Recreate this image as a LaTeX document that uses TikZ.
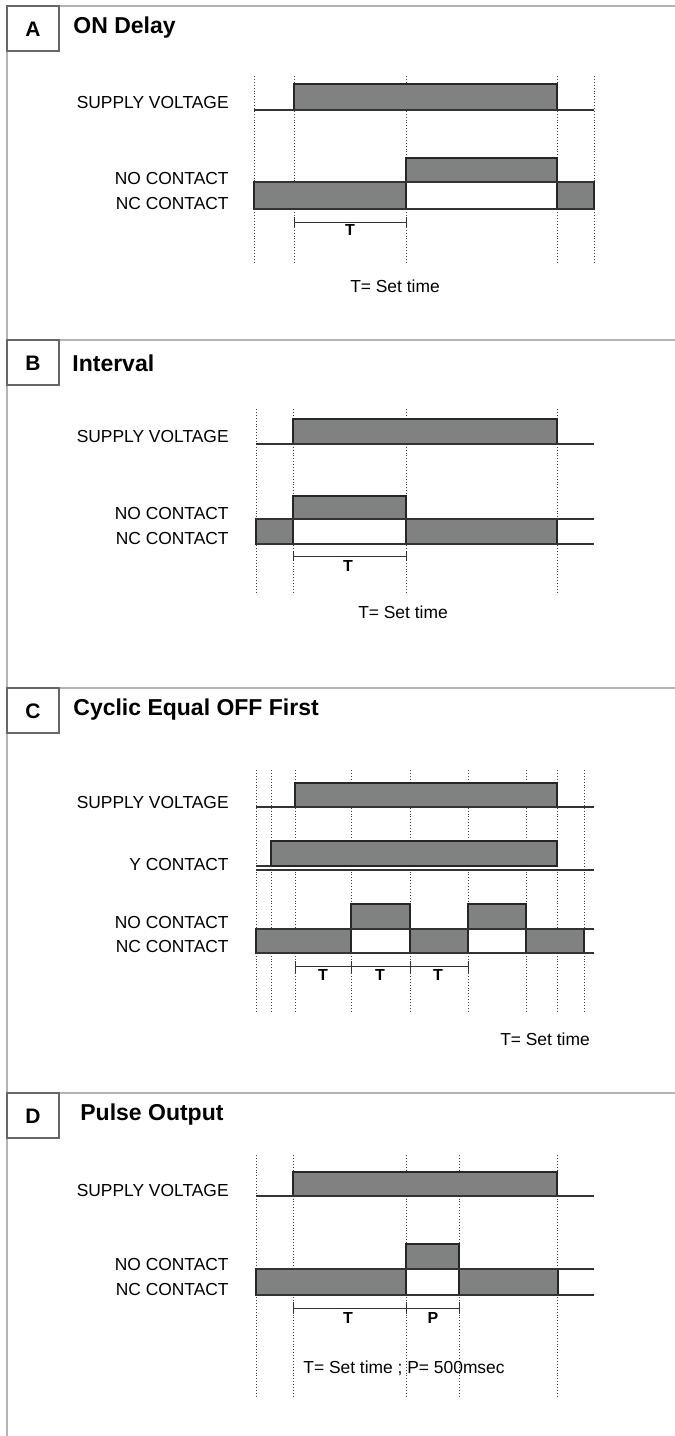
\documentclass[tikz,border=0pt]{standalone}
\usepackage{fontspec}
\setmainfont{Liberation Sans}
\definecolor{pulsegray}{HTML}{808282}
\definecolor{framegray}{HTML}{B4B4B4}

\begin{document}
\begin{tikzpicture}[x=0.5pt,y=-0.5pt,
  sig/.style={line width=0.7pt, black!80},
  pulse/.style={fill=pulsegray, draw=black!85, line width=0.6pt},
  grid/.style={densely dotted, line width=0.45pt, black!75},
  tbar/.style={line width=0.5pt, black!80},
  lbl/.style={anchor=east, inner sep=0pt, font=\fontsize{8.7}{10}\selectfont},
  note/.style={inner sep=0pt, font=\fontsize{8.7}{10}\selectfont},
  tlbl/.style={inner sep=0pt, font=\bfseries\fontsize{8}{10}\selectfont},
  tag/.style={inner sep=0pt, font=\bfseries\fontsize{10.5}{12}\selectfont},
  title/.style={anchor=west, inner sep=0pt, font=\bfseries\fontsize{11.5}{13}\selectfont},
  tagbox/.style={draw=black!60, line width=0.6pt}]
\useasboundingbox (0,0) rectangle (675,1436);

% outer frame and section rules
\draw[framegray, line width=1pt] (7,1436) -- (7,6) -- (675,6);
\foreach \y in {340,688,1093} \draw[framegray, line width=1pt] (7,\y) -- (675,\y);

%%%%%%%%%% A : ON Delay
\draw[tagbox] (7,6) rectangle (59,51);
\node[tag] (tagA) at (33,29) {A};
\node[title] (ttlA) at (73,28) {ON Delay};
\foreach \x in {254,294,406,557,594} \draw[grid] (\x,76) -- (\x,262);
% supply voltage
\draw[pulse] (294,84) rectangle (557,110);
\draw[sig] (254,110) -- (594,110);
% contacts
\draw[pulse] (406,158) rectangle (557,182); % NO
\draw[pulse] (254,182) rectangle (406,209); % NC
\draw[pulse] (557,182) rectangle (594,209);
\draw[sig] (254,182) -- (594,182);
\draw[sig] (254,209) -- (594,209);
% set time
\draw[tbar] (294,217) -- (294,227) (294,222) -- (406,222) (406,217) -- (406,227);
\node[tlbl] (tA) at (350,230) {T};
\node[lbl] (supA) at (229,103) {SUPPLY VOLTAGE};
\node[lbl] (noA) at (229,179) {NO CONTACT};
\node[lbl] (ncA) at (229,204) {NC CONTACT};
\node[note] (keyA) at (395,286) {T= Set time};

%%%%%%%%%% B : Interval
\draw[tagbox] (7,340) rectangle (59,385);
\node[tag] (tagB) at (33,363) {B};
\node[title] (ttlB) at (72,363) {Interval};
\foreach \x in {256,293,406,557} \draw[grid] (\x,409) -- (\x,593);
% supply voltage
\draw[pulse] (293,419) rectangle (557,444);
\draw[sig] (256,444) -- (594,444);
% contacts
\draw[pulse] (293,496) rectangle (406,519); % NO
\draw[pulse] (256,519) rectangle (293,544); % NC
\draw[pulse] (406,519) rectangle (557,544);
\draw[sig] (256,519) -- (594,519);
\draw[sig] (256,544) -- (594,544);
% set time
\draw[tbar] (293,551) -- (293,561) (293,556) -- (406,556) (406,551) -- (406,561);
\node[tlbl] (tB) at (348,566) {T};
\node[lbl] (supB) at (229,437) {SUPPLY VOLTAGE};
\node[lbl] (noB) at (229,514) {NO CONTACT};
\node[lbl] (ncB) at (229,539) {NC CONTACT};
\node[note] (keyB) at (403,612) {T= Set time};

%%%%%%%%%% C : Cyclic Equal OFF First
\draw[tagbox] (7,688) rectangle (59,733);
\node[tag] (tagC) at (33,711) {C};
\node[title] (ttlC) at (73,710) {Cyclic Equal OFF First};
\foreach \x in {256,271,295,351,410,468,526,557,584} \draw[grid] (\x,770) -- (\x,1012);
% supply voltage
\draw[pulse] (295,783) rectangle (557,807);
\draw[sig] (256,807) -- (594,807);
% Y contact
\draw[pulse] (271,841) rectangle (557,866);
\draw[sig] (256,866) -- (271,866);
\draw[sig] (256,870) -- (594,870);
% contacts
\foreach \a/\b in {351/410,468/526} \draw[pulse] (\a,904) rectangle (\b,929); % NO
\foreach \a/\b in {256/351,410/468,526/584} \draw[pulse] (\a,929) rectangle (\b,953); % NC
\draw[sig] (256,929) -- (594,929);
\draw[sig] (256,953) -- (594,953);
% set time
\draw[tbar] (295,966) -- (468,966);
\foreach \x in {295,351,410,468} \draw[tbar] (\x,961) -- (\x,973);
\node[tlbl] (tC1) at (323,975) {T};
\node[tlbl] (tC2) at (380,975) {T};
\node[tlbl] (tC3) at (438,975) {T};
\node[lbl] (supC) at (229,802) {SUPPLY VOLTAGE};
\node[lbl] (yC) at (229,864) {Y CONTACT};
\node[lbl] (noC) at (229,922) {NO CONTACT};
\node[lbl] (ncC) at (229,946) {NC CONTACT};
\node[note] (keyC) at (545,1039) {T= Set time};

%%%%%%%%%% D : Pulse Output
\draw[tagbox] (7,1093) rectangle (59,1138);
\node[tag] (tagD) at (33,1116) {D};
\node[title] (ttlD) at (80,1115) {Pulse Output};
\foreach \x in {256,293,406,459,557} \draw[grid] (\x,1155) -- (\x,1397);
% supply voltage
\draw[pulse] (293,1172) rectangle (557,1196);
\draw[sig] (256,1196) -- (594,1196);
% contacts
\draw[pulse] (406,1244) rectangle (459,1269); % NO
\draw[pulse] (256,1269) rectangle (406,1295); % NC
\draw[pulse] (459,1269) rectangle (558,1295);
\draw[sig] (256,1269) -- (594,1269);
\draw[sig] (256,1295) -- (594,1295);
% set time and pulse
\draw[tbar] (293,1308) -- (459,1308);
\foreach \x in {293,406,459} \draw[tbar] (\x,1302) -- (\x,1314);
\node[tlbl] (tD) at (348,1318) {T};
\node[tlbl] (pD) at (433,1318) {P};
\node[lbl] (supD) at (229,1190) {SUPPLY VOLTAGE};
\node[lbl] (noD) at (229,1264) {NO CONTACT};
\node[lbl] (ncD) at (229,1289) {NC CONTACT};
\node[note] (keyD) at (404,1368) {T= Set time ; P= 500msec};
\end{tikzpicture}
\end{document}
